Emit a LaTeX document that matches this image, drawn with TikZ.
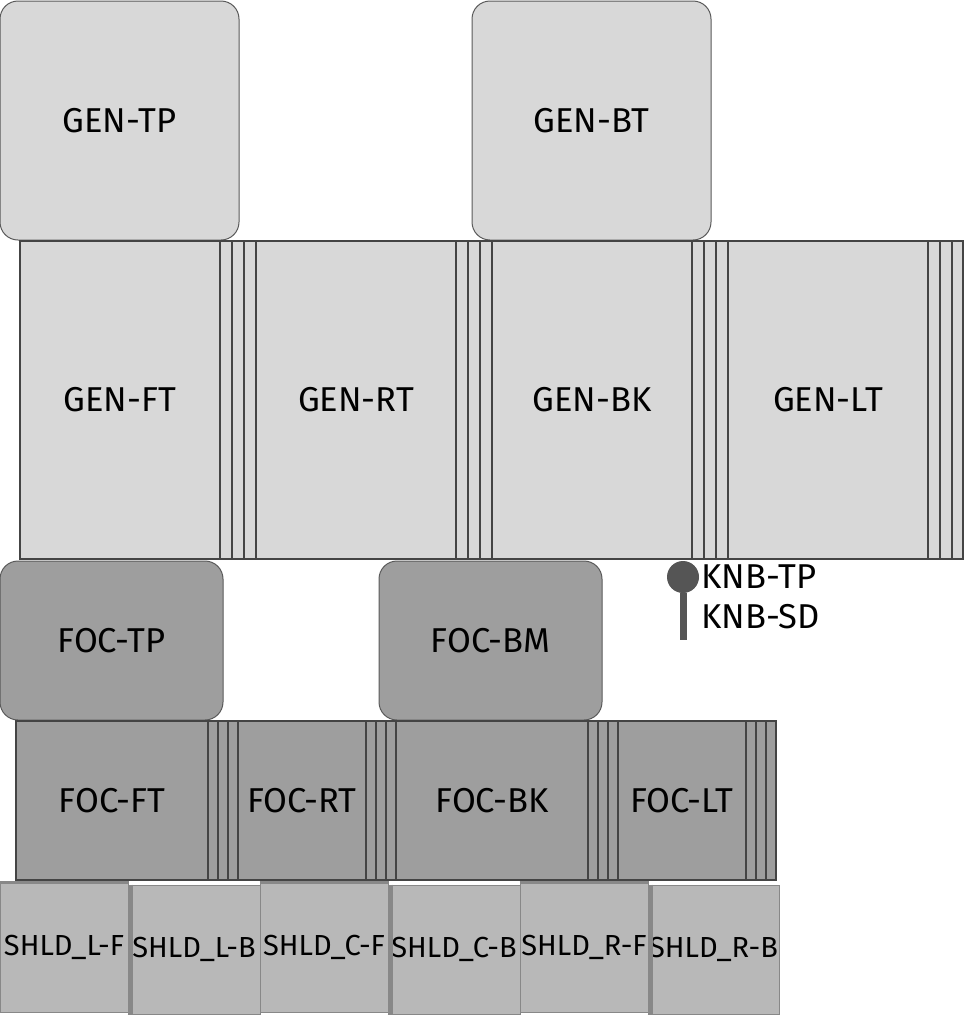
\documentclass[tikz,border=0pt]{standalone}
\usepackage{fontspec}
\setmainfont{Fira Sans}
\usetikzlibrary{positioning}
\definecolor{genfill}{HTML}{D8D8D8}
\definecolor{focfill}{HTML}{9E9E9E}
\definecolor{shfill}{HTML}{B8B8B8}
\definecolor{shedge}{HTML}{888888}
\definecolor{panedge}{HTML}{444444}
\definecolor{lidedge}{HTML}{5A5A5A}
\definecolor{knbcol}{HTML}{555555}
\tikzset{
  lidbox/.style={draw=lidedge, line width=1pt, rounded corners=18pt, inner sep=0pt},
  panel/.style={draw=panedge, line width=2pt, inner sep=0pt},
  shbox/.style={draw=shedge, fill=shfill, line width=1pt, inner sep=0pt, minimum height=129pt,
    font=\fontsize{29}{33}\selectfont}
}
\begin{document}
\begin{tikzpicture}[x=1pt, y=-1pt, every node/.style={font=\fontsize{34.5}{40}\selectfont}]
\useasboundingbox (0,0) rectangle (964,1015);
% generator lids
\node[lidbox, fill=genfill, minimum width=239pt, minimum height=239pt] (gentp) at (119.5,120.5) {GEN-TP};
\node[lidbox, fill=genfill, minimum width=239pt, minimum height=239pt] (genbt) at (591.5,120.5) {GEN-BT};
% generator sides
\node[panel, fill=genfill, minimum width=200pt, minimum height=318pt] (genft) at (120,400) {GEN-FT};
\draw[panel, fill=genfill] (220,241) rectangle (256,559);
\draw[panel] (232,241) -- (232,559);
\draw[panel] (244,241) -- (244,559);
\node[panel, fill=genfill, minimum width=200pt, minimum height=318pt] (genrt) at (356,400) {GEN-RT};
\draw[panel, fill=genfill] (456,241) rectangle (492,559);
\draw[panel] (468,241) -- (468,559);
\draw[panel] (480,241) -- (480,559);
\node[panel, fill=genfill, minimum width=200pt, minimum height=318pt] (genbk) at (592,400) {GEN-BK};
\draw[panel, fill=genfill] (692,241) rectangle (728,559);
\draw[panel] (704,241) -- (704,559);
\draw[panel] (716,241) -- (716,559);
\node[panel, fill=genfill, minimum width=200pt, minimum height=318pt] (genlt) at (828,400) {GEN-LT};
\draw[panel, fill=genfill] (928,241) rectangle (963,559);
\draw[panel] (940,241) -- (940,559);
\draw[panel] (952,241) -- (952,559);
% knob
\node[circle, fill=knbcol, minimum size=32pt, inner sep=0pt] (knob) at (683,577) {};
\coordinate (knbend) at (683,640);
\draw[knbcol, line width=7pt] (knob.south) -- (knbend);
\node[anchor=west, inner sep=0pt] (knbtp) at (701,577) {KNB-TP};
\node[anchor=west, inner sep=0pt] (knbsd) at (701,617) {KNB-SD};
% focus lids
\node[lidbox, fill=focfill, minimum width=223pt, minimum height=159pt] (foctp) at (111.5,640.5) {FOC-TP};
\node[lidbox, fill=focfill, minimum width=223pt, minimum height=159pt] (focbm) at (490.5,640.5) {FOC-BM};
% focus sides
\node[panel, fill=focfill, minimum width=192pt, minimum height=159pt] (focft) at (112,800.5) {FOC-FT};
\draw[panel, fill=focfill] (208,721) rectangle (238,880);
\draw[panel] (218,721) -- (218,880);
\draw[panel] (228,721) -- (228,880);
\node[panel, fill=focfill, minimum width=128pt, minimum height=159pt] (focrt) at (302,800.5) {FOC-RT};
\draw[panel, fill=focfill] (366,721) rectangle (396,880);
\draw[panel] (376,721) -- (376,880);
\draw[panel] (386,721) -- (386,880);
\node[panel, fill=focfill, minimum width=192pt, minimum height=159pt] (focbk) at (492,800.5) {FOC-BK};
\draw[panel, fill=focfill] (588,721) rectangle (618,880);
\draw[panel] (598,721) -- (598,880);
\draw[panel] (608,721) -- (608,880);
\node[panel, fill=focfill, minimum width=128pt, minimum height=159pt] (foclt) at (682,800.5) {FOC-LT};
\draw[panel, fill=focfill] (746,721) rectangle (776,880);
\draw[panel] (756,721) -- (756,880);
\draw[panel] (766,721) -- (766,880);
% shields
\node[shbox, minimum width=128pt] (shlf) at (64,947.5) {SHLD\_L-F};
\draw[shedge, line width=2.5pt] (shlf.north west) -- (shlf.north east);
\node[shbox, minimum width=132pt] (shlb) at (194,949.5) {SHLD\_L-B};
\draw[shedge, line width=5pt] ([xshift=2.5pt]shlb.north west) -- ([xshift=2.5pt]shlb.south west);
\draw[shedge, line width=2pt] (shlb.south west) -- (shlb.south east);
\node[shbox, minimum width=128pt] (shcf) at (324,947.5) {SHLD\_C-F};
\draw[shedge, line width=2.5pt] (shcf.north west) -- (shcf.north east);
\node[shbox, minimum width=132pt] (shcb) at (454,949.5) {SHLD\_C-B};
\draw[shedge, line width=5pt] ([xshift=2.5pt]shcb.north west) -- ([xshift=2.5pt]shcb.south west);
\draw[shedge, line width=2pt] (shcb.south west) -- (shcb.south east);
\node[shbox, minimum width=128pt] (shrf) at (584,947.5) {SHLD\_R-F};
\draw[shedge, line width=2.5pt] (shrf.north west) -- (shrf.north east);
\node[shbox, minimum width=131pt] (shrb) at (713.5,949.5) {SHLD\_R-B};
\draw[shedge, line width=5pt] ([xshift=2.5pt]shrb.north west) -- ([xshift=2.5pt]shrb.south west);
\draw[shedge, line width=2pt] (shrb.south west) -- (shrb.south east);
\end{tikzpicture}
\end{document}
